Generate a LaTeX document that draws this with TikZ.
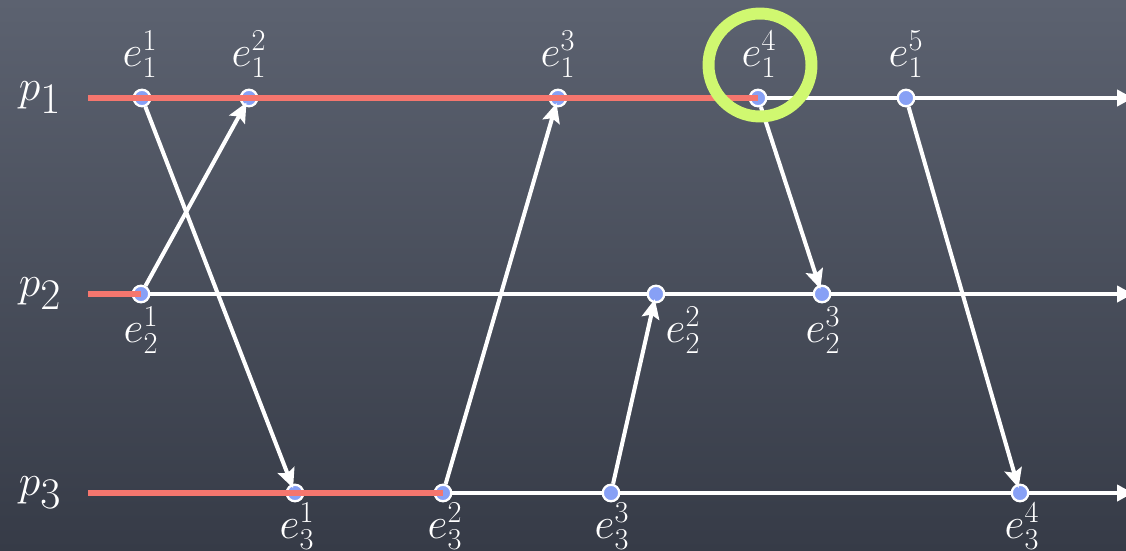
\documentclass[tikz,border=0pt]{standalone}
\usetikzlibrary{arrows.meta}
\definecolor{boardtop}{RGB}{92,98,112}
\definecolor{boardbot}{RGB}{54,59,71}
\definecolor{evblue}{RGB}{135,160,245}
\definecolor{cutred}{RGB}{245,118,110}
\definecolor{markgreen}{RGB}{208,248,112}
\begin{document}
\begin{tikzpicture}[x=0.02cm,y=-0.02cm,
      ev/.style={circle,draw=white,fill=evblue,line width=1.3pt,inner sep=0pt,minimum size=0.33cm},
      tl/.style={white,line width=2.3pt,-{Triangle[length=9pt,width=9pt]}},
      msg/.style={white,line width=2.3pt,-{Stealth[length=11pt,width=10pt,inset=2pt]},shorten >=3pt},
      cut/.style={cutred,line width=3.6pt},
      lab/.style={white,inner sep=0pt,font=\fontsize{25}{29}\selectfont},
      proc/.style={white,inner sep=0pt,font=\fontsize{35}{40}\selectfont}]
    \useasboundingbox (0,0) rectangle (1126,551);
    \shade[top color=boardtop,bottom color=boardbot] (0,0) rectangle (1126,551);
    % --- processi ---
    \foreach \i/\y in {1/98, 2/294, 3/493}{
      \node[proc] (p\i) at (40,\y) {$p_\i$};
      \coordinate (s\i) at (88,\y);
      \coordinate (t\i) at (1133,\y);
      \draw[tl] (s\i) -- (t\i);
    }
    % --- eventi p1 (etichette sopra) ---
    \foreach \k/\x/\lx in {1/142/140, 2/249/249, 3/558/558, 4/758/759, 5/906/906}{
      \node[ev] (e1\k) at (\x,98) {};
      \node[lab] (l1\k) at (\lx,54) {$e_1^\k$};
    }
    % --- eventi p2 e p3 (etichette sotto) ---
    \foreach \k/\x/\lx in {1/141/141, 2/656/683, 3/822/823}{
      \node[ev] (e2\k) at (\x,294) {};
      \node[lab] (l2\k) at (\lx,330) {$e_2^\k$};
    }
    \foreach \k/\x/\lx in {1/295/297, 2/443/445, 3/611/612, 4/1020/1022}{
      \node[ev] (e3\k) at (\x,493) {};
      \node[lab] (l3\k) at (\lx,526) {$e_3^\k$};
    }
    % --- messaggi ---
    \draw[msg] (e11) -- (e31.center);
    \draw[msg] (e21) -- (e12.center);
    \draw[msg] (e32) -- (e13.center);
    \draw[msg] (e33) -- (e22.center);
    \draw[msg] (e14) -- (e23.center);
    \draw[msg] (e15) -- (e34.center);
    % --- taglio ---
    \draw[cut] (s1) -- (e14.center);
    \draw[cut] (s2) -- (e21.center);
    \draw[cut] (s3) -- (e32.center);
    \node[circle,draw=markgreen,line width=6.8pt,minimum size=2.06cm,inner sep=0pt] (mark) at (760,65) {};
  \end{tikzpicture}
\end{document}
